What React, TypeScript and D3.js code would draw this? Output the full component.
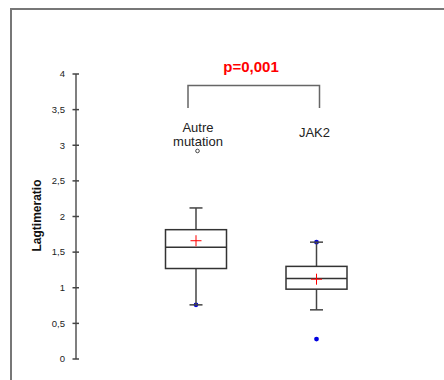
import React from "react";
import * as d3 from "d3";

const categories = ["Autre mutation", "JAK2"];
const labelLines = [["Autre", "mutation"], ["JAK2"]];
const q1 = [1.27, 0.98];
const median = [1.57, 1.13];
const q3 = [1.815, 1.3];
const whiskerLow = [0.76, 0.69];
const whiskerHigh = [2.12, 1.64];
const means = [1.66, 1.12];
const extremeCat = ["Autre mutation", "JAK2", "JAK2"];
const extremeVal = [0.76, 1.64, 0.28];
const outlierCat = ["Autre mutation"];
const outlierVal = [2.92];
const yTicks = [0, 0.5, 1, 1.5, 2, 2.5, 3, 3.5, 4];
const yLabel = "Lagtimeratio";
const pLabel = "p=0,001";

const W = 444;
const H = 380;

export default function App() {
  const y = d3.scaleLinear().domain([0, 4]).range([359, 74]);
  const x = d3.scalePoint<string>().domain(categories).range([196, 316.5]);
  const boxW = 61;
  const capW = 13;
  const fmt = (v: number) => String(v).replace(".", ",");
  const font = "'Liberation Sans', Arial, sans-serif";
  const axisX = 76;

  return (
    <svg width={W} height={H} style={{ position: "absolute", left: 0, top: 0, background: "#fff" }} fontFamily={font}>
      {/* frame */}
      <line x1={11} y1={9} x2={W} y2={9} stroke="#777" strokeWidth={2} />
      <line x1={11} y1={8} x2={11} y2={H} stroke="#777" strokeWidth={2} />

      {/* y axis */}
      <line x1={axisX} x2={axisX} y1={y(4)} y2={y(0)} stroke="#555" strokeWidth={1.5} />
      {yTicks.map((t) => (
        <g key={t}>
          <line x1={axisX - 3.5} x2={axisX + 3} y1={y(t)} y2={y(t)} stroke="#444" strokeWidth={1.5} />
          <text x={65} y={y(t)} dy="0.35em" textAnchor="end" fontSize={9.5} fill="#222">
            {fmt(t)}
          </text>
        </g>
      ))}
      <text
        transform={`translate(41,${215.5}) rotate(-90)`}
        textAnchor="middle"
        fontSize={12}
        fontWeight="bold"
        fill="#111"
      >
        {yLabel}
      </text>

      {/* p-value bracket */}
      <path
        d={`M${x(categories[0])! - 8},108V85.5H${x(categories[1])! + 3}V108`}
        fill="none"
        stroke="#666"
        strokeWidth={1.5}
      />
      <text x={251} y={72} textAnchor="middle" fontSize={15} fontWeight="bold" fill="#f00">
        {pLabel}
      </text>

      {/* category labels */}
      {categories.map((c, i) => (
        <text key={c} textAnchor="middle" fontSize={13} fill="#222">
          {labelLines[i].map((ln, j) => (
            <tspan key={j} x={x(c)! + (i === 0 ? 2 : -2)} y={(i === 0 ? 131.5 : 137) + j * 14}>
              {ln}
            </tspan>
          ))}
        </text>
      ))}

      {/* extreme points (under the caps) */}
      {extremeVal.map((v, i) => (
        <circle key={i} cx={x(extremeCat[i])!} cy={y(v)} r={2.4} fill="#0000e0" />
      ))}

      {/* boxes */}
      {categories.map((c, i) => {
        const cx = x(c)!;
        return (
          <g key={c}>
            <line x1={cx} x2={cx} y1={y(whiskerHigh[i])} y2={y(q3[i])} stroke="#444" strokeWidth={1.5} />
            <line x1={cx} x2={cx} y1={y(q1[i])} y2={y(whiskerLow[i])} stroke="#444" strokeWidth={1.5} />
            <line x1={cx - capW / 2} x2={cx + capW / 2} y1={y(whiskerHigh[i])} y2={y(whiskerHigh[i])} stroke="#444" strokeWidth={1.5} />
            <line x1={cx - capW / 2} x2={cx + capW / 2} y1={y(whiskerLow[i])} y2={y(whiskerLow[i])} stroke="#444" strokeWidth={1.5} />
            <rect
              x={cx - boxW / 2}
              y={y(q3[i])}
              width={boxW}
              height={y(q1[i]) - y(q3[i])}
              fill="#fff"
              stroke="#333"
              strokeWidth={1.5}
            />
            <line x1={cx - boxW / 2} x2={cx + boxW / 2} y1={y(median[i])} y2={y(median[i])} stroke="#333" strokeWidth={1.5} />
            <line x1={cx - 5.5} x2={cx + 5.5} y1={y(means[i])} y2={y(means[i])} stroke="#f00" strokeWidth={1} />
            <line x1={cx} x2={cx} y1={y(means[i]) - 5.5} y2={y(means[i]) + 5.5} stroke="#f00" strokeWidth={1} />
          </g>
        );
      })}

      {outlierVal.map((v, i) => (
        <circle key={i} cx={x(outlierCat[i])! + 1.5} cy={y(v)} r={1.8} fill="#fff" stroke="#444" strokeWidth={1} />
      ))}
    </svg>
  );
}
